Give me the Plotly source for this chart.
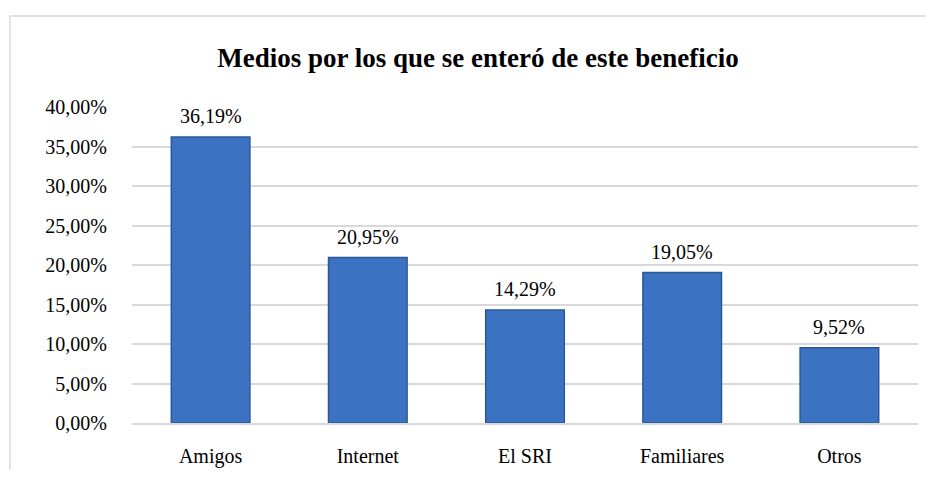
import plotly.graph_objects as go

categories = ["Amigos", "Internet", "El SRI", "Familiares", "Otros"]
values_pct = [36.19, 20.95, 14.29, 19.05, 9.52]
tick_vals_pct = [0, 5, 10, 15, 20, 25, 30, 35, 40]
title_text = "Medios por los que se enteró de este beneficio"

values = [v / 100 for v in values_pct]
tick_vals = [v / 100 for v in tick_vals_pct]

FONT = "serif"

W, H = 918, 462
L, R, T, B = 124, 8, 99, 47
PW, PH = W - L - R, H - T - B

fig = go.Figure()
fig.add_trace(go.Bar(
    x=categories,
    y=values,
    width=0.5,
    marker=dict(color="#3b73c2", line=dict(color="#2b5898", width=1.5)),
    hoverinfo="skip",
))

annotations = [
    dict(x=c, y=v, text=f"{p:.2f}%".replace(".", ","), showarrow=False,
         yanchor="bottom", yshift=8, xref="x", yref="y",
         font=dict(family=FONT, size=20, color="#000000"))
    for c, v, p in zip(categories, values, values_pct)
]

fig.update_layout(
    template="none",
    width=W, height=H,
    margin=dict(l=L, r=R, t=T, b=B, autoexpand=False),
    paper_bgcolor="white", plot_bgcolor="white",
    separators=", ",
    showlegend=False,
    font=dict(family=FONT, size=20, color="#000000"),
    title=dict(text=f"<b>{title_text}</b>", x=470 / W, xanchor="center",
               y=1 - 50 / H, yanchor="middle",
               font=dict(family=FONT, size=27, color="#000000")),
    annotations=annotations,
    shapes=[dict(type="rect", xref="paper", yref="paper",
                 x0=(2 - L) / PW, x1=1.2, y0=-0.4, y1=(T + PH - 8) / PH,
                 line=dict(color="#d9d9d9", width=1.5), layer="below")],
)
fig.update_yaxes(range=[0, 0.40], tickvals=tick_vals, tickformat=".2%",
                 showgrid=True, gridcolor="#d9d9d9", gridwidth=1.5,
                 zeroline=False, showline=False, ticks="", automargin=False,
                 ticklabelstandoff=24,
                 tickfont=dict(family=FONT, size=20, color="#000000"))
fig.update_xaxes(showline=True, linecolor="#d9d9d9", linewidth=1.5,
                 showgrid=False, zeroline=False,
                 ticks="", ticklabelstandoff=14, automargin=False,
                 tickfont=dict(family=FONT, size=20, color="#000000"))

fig.write_html("out.html")
